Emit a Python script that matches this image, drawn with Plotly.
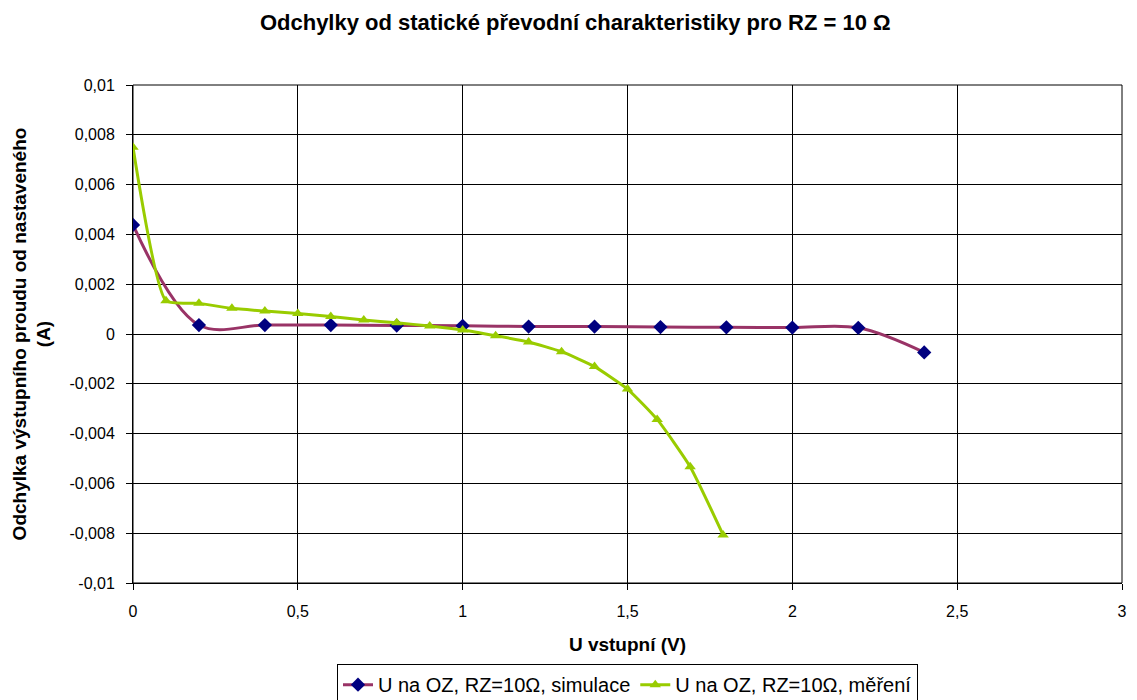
import plotly.graph_objects as go

# Data
sim_x = [0, 0.2, 0.4, 0.6, 0.8, 1.0, 1.2, 1.4, 1.6, 1.8, 2.0, 2.2, 2.4]
sim_y = [0.00438, 0.00036, 0.00036, 0.00036, 0.00034, 0.00033, 0.00030, 0.00030,
         0.00028, 0.00027, 0.00026, 0.00025, -0.00074]
mer_x = [0, 0.1, 0.2, 0.3, 0.4, 0.5, 0.6, 0.7, 0.8, 0.9, 1.0, 1.1, 1.2, 1.3, 1.4,
         1.5, 1.59, 1.69, 1.79]
mer_y = [0.0075, 0.00134, 0.00123, 0.00103, 0.00092, 0.00082, 0.00070, 0.00056,
         0.00045, 0.00032, 0.00016, -0.00007, -0.00032, -0.00071, -0.00131,
         -0.00221, -0.00343, -0.00533, -0.00807]

y_tickvals = [0.01, 0.008, 0.006, 0.004, 0.002, 0, -0.002, -0.004, -0.006, -0.008, -0.01]
y_ticktext = ["0,01", "0,008", "0,006", "0,004", "0,002", "0", "-0,002", "-0,004",
              "-0,006", "-0,008", "-0,01"]
x_tickvals = [0, 0.5, 1, 1.5, 2, 2.5, 3]
x_ticktext = ["0", "0,5", "1", "1,5", "2", "2,5", "3"]

font = "Liberation Sans, Arial, sans-serif"

fig = go.Figure()
fig.add_trace(go.Scatter(
    x=sim_x, y=sim_y, mode="lines+markers",
    name="U na OZ, RZ=10Ω, simulace",
    line=dict(color="#993366", width=3, shape="spline", smoothing=1.0),
    marker=dict(symbol="diamond", size=11, color="#000080"),
))
fig.add_trace(go.Scatter(
    x=mer_x, y=mer_y, mode="lines+markers",
    name="U na OZ, RZ=10Ω, měření",
    line=dict(color="#99CC00", width=3, shape="spline", smoothing=0.5),
    marker=dict(symbol="triangle-up", size=10, color="#99CC00"),
))

fig.update_layout(
    width=1137, height=700,
    margin=dict(l=133, r=15, t=85, b=117, autoexpand=False),
    paper_bgcolor="white", plot_bgcolor="white",
    font=dict(family=font, size=16, color="black"),
    title=dict(text="<b>Odchylky od statické převodní charakteristiky pro RZ = 10 Ω</b>",
               x=0.506, xanchor="center", y=0.968, yanchor="middle",
               font=dict(size=22, family=font)),
    showlegend=True,
    legend=dict(orientation="h", x=0.5, xanchor="center", y=-0.163, yanchor="top",
                bordercolor="black", borderwidth=1, font=dict(size=20, family=font),
                itemwidth=30, tracegroupgap=0),
)
fig.update_xaxes(
    range=[0, 3], tickvals=x_tickvals, ticktext=x_ticktext,
    showgrid=True, gridcolor="black", gridwidth=1,
    showline=True, linecolor="black", linewidth=1,
    ticks="outside", ticklen=6, tickcolor="black", ticklabelstandoff=8,
    zeroline=False, tickfont=dict(size=16), automargin=False,
    title=dict(text="<b>U vstupní (V)</b>", font=dict(size=19), standoff=18),
)
fig.update_yaxes(
    range=[-0.01, 0.01], tickvals=y_tickvals, ticktext=y_ticktext,
    showgrid=True, gridcolor="black", gridwidth=1,
    showline=True, linecolor="black", linewidth=1,
    ticks="outside", ticklen=6, tickcolor="black", ticklabelstandoff=8,
    zeroline=False, tickfont=dict(size=16), automargin=False,
    title=dict(text="<b>Odchylka výstupního proudu od nastaveného<br>(A)</b>",
               font=dict(size=19), standoff=13),
)
fig.add_shape(type="rect", xref="paper", yref="paper", x0=0, y0=0, x1=1, y1=1,
              line=dict(color="black", width=1), layer="below")

fig.write_html("out.html")
